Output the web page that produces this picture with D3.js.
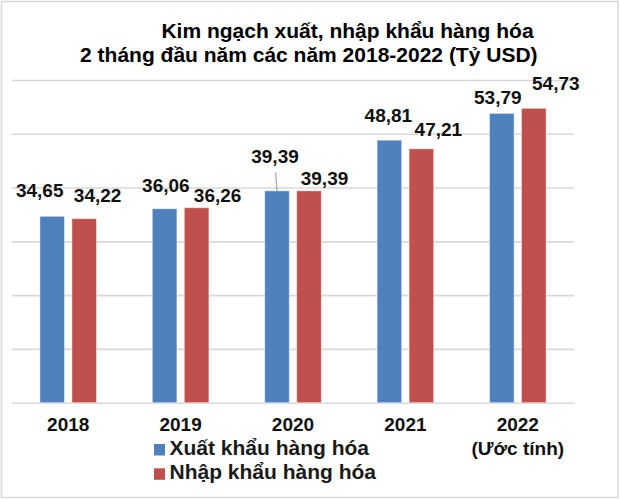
<!DOCTYPE html>
<html>
<head>
<meta charset="utf-8">
<script src="https://cdn.jsdelivr.net/npm/d3@7"></script>
<style>
    body { margin: 0; background: #fff; }
    svg { display: block; font-family: "Liberation Sans", Arial, sans-serif; }
    .title { font-size: 21px; font-weight: bold; fill: #000; }
    .value-label { font-size: 19px; font-weight: bold; fill: #111; }
    .axis text { font-size: 19px; font-weight: bold; fill: #111; }
    .legend-text { font-size: 21px; font-weight: bold; fill: #1a1a1a; }
</style>
</head>
<body>
<script>
// Chart data
const years = ["2018", "2019", "2020", "2021", "2022"];
const yearNotes = ["", "", "", "", "(Ước tính)"];
const exportValues = [34.65, 36.06, 39.39, 48.81, 53.79];
const importValues = [34.22, 36.26, 39.39, 47.21, 54.73];
const yTicks = [0, 10, 20, 30, 40, 50, 60];
const seriesNames = ["Xuất khẩu hàng hóa", "Nhập khẩu hàng hóa"];

// Layout
const width = 620;
const height = 499;
const plot = { left: 12, right: 574, top: 80, bottom: 402.7 };
const colors = ["#4F81BD", "#C0504D"];

// Manual nudges of the value labels (as placed in the original chart)
const exportLabelDx = [-12.5, 1.3, -2, -1, -4];
const exportLabelDy = [-19.6, -17, -28, -18, -9];
const importLabelDx = [13.4, 21, 15.5, 17, 22];
const importLabelDy = [-17, -5.7, -6, -12.8, -18.4];

const fmt = d3.formatLocale({ decimal: ",", thousands: ".", grouping: [3], currency: ["", ""] }).format(".2f");

// Build rows for drawing
const rows = years.map((year, i) => ({
    year: year,
    values: [
        { key: 0, value: exportValues[i], dx: exportLabelDx[i], dy: exportLabelDy[i] },
        { key: 1, value: importValues[i], dx: importLabelDx[i], dy: importLabelDy[i] }
    ]
}));

const svg = d3.select("body")
    .append("svg")
    .attr("width", width)
    .attr("height", height);

// Frame
svg.append("rect")
    .attr("x", 1.5)
    .attr("y", 1.5)
    .attr("width", width - 3.5)
    .attr("height", height - 3)
    .attr("fill", "#fff")
    .attr("stroke", "#d9d9d9")
    .attr("stroke-width", 1.5);

// Scales
const x0 = d3.scaleBand()
    .domain(years)
    .range([plot.left, plot.right]);

const x1 = d3.scaleBand()
    .domain([0, 1])
    .range([0, x0.bandwidth()])
    .paddingInner(0.231)
    .paddingOuter(0.872);

const y = d3.scaleLinear()
    .domain([0, 60])
    .range([plot.bottom, plot.top]);

// Gridlines
const grid = svg.append("g")
    .attr("transform", `translate(${plot.left}, 0)`)
    .call(d3.axisLeft(y).tickValues(yTicks).tickSize(-(plot.right - plot.left)).tickFormat(""));
grid.select(".domain").remove();
grid.selectAll(".tick line")
    .attr("stroke", "#d9d9d9")
    .attr("stroke-width", 1.6);

// Bars
const groups = svg.append("g")
    .selectAll("g")
    .data(rows)
    .join("g")
    .attr("transform", d => `translate(${x0(d.year)}, 0)`);

groups.selectAll("rect")
    .data(d => d.values)
    .join("rect")
    .attr("x", d => x1(d.key))
    .attr("y", d => y(d.value))
    .attr("width", x1.bandwidth())
    .attr("height", d => y(0) - y(d.value))
    .attr("fill", d => colors[d.key])
    .attr("stroke", "rgba(255,255,255,0.45)")
    .attr("stroke-width", 1);

// Leader line for the lifted 2020 export label
groups.filter(d => d.year === "2020")
    .selectAll("line.leader")
    .data(d => [d.values[0]])
    .join("line")
    .attr("class", "leader")
    .attr("x1", d => x1(d.key) + x1.bandwidth() / 2 + d.dx + 0.6)
    .attr("y1", d => y(d.value) + d.dy + 9.6)
    .attr("x2", d => x1(d.key) + x1.bandwidth() / 2)
    .attr("y2", d => y(d.value))
    .attr("stroke", "#a6a6a6")
    .attr("stroke-width", 1.2);

// Value labels
groups.selectAll("text.value-label")
    .data(d => d.values)
    .join("text")
    .attr("class", "value-label")
    .attr("x", d => x1(d.key) + x1.bandwidth() / 2 + d.dx)
    .attr("y", d => y(d.value) + d.dy)
    .attr("text-anchor", "middle")
    .text(d => fmt(d.value));

// X axis labels
const xAxis = svg.append("g")
    .attr("class", "axis")
    .attr("transform", `translate(0, ${plot.bottom})`)
    .call(d3.axisBottom(x0).tickSize(0).tickPadding(0));
xAxis.select(".domain").remove();
xAxis.selectAll(".tick text")
    .attr("y", 28)
    .attr("dy", null)
    .each(function (d, i) {
        if (yearNotes[i]) {
            d3.select(this.parentNode)
                .append("text")
                .attr("y", 52.3)
                .attr("text-anchor", "middle")
                .attr("fill", "#111")
                .text(yearNotes[i]);
        }
    });

// Title
const title = svg.append("text")
    .attr("class", "title")
    .attr("text-anchor", "middle");
title.append("tspan")
    .attr("x", 347.5)
    .attr("y", 38.3)
    .text("Kim ngạch xuất, nhập khẩu hàng hóa");
title.append("tspan")
    .attr("x", 308.8)
    .attr("y", 61.7)
    .text("2 tháng đầu năm các năm 2018-2022 (Tỷ USD)");

// Legend
const legend = svg.append("g")
    .attr("transform", "translate(154, 444)")
    .selectAll("g")
    .data(seriesNames)
    .join("g")
    .attr("transform", (d, i) => `translate(0, ${i * 24.3})`);

legend.append("rect")
    .attr("width", 11)
    .attr("height", 11.5)
    .attr("fill", (d, i) => colors[i]);

legend.append("text")
    .attr("class", "legend-text")
    .attr("x", 15.5)
    .attr("y", 11)
    .text(d => d);
</script>
</body>
</html>
